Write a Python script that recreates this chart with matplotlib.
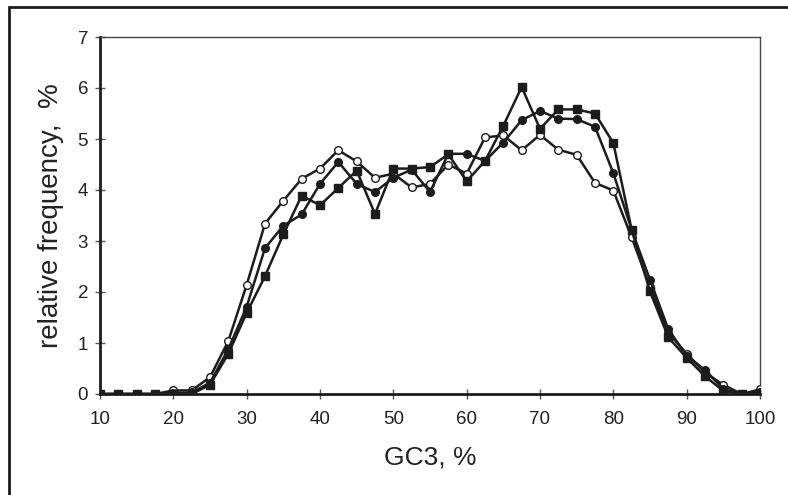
import matplotlib
matplotlib.use("Agg")
import matplotlib.pyplot as plt
from matplotlib.patches import Rectangle

gc3 = [10, 12.5, 15, 17.5, 20, 22.5, 25, 27.5, 30, 32.5, 35, 37.5, 40, 42.5, 45, 47.5,
       50, 52.5, 55, 57.5, 60, 62.5, 65, 67.5, 70, 72.5, 75, 77.5, 80, 82.5, 85, 87.5,
       90, 92.5, 95, 97.5, 100]

open_circles = [0, 0, 0, 0, 0.07, 0.07, 0.33, 1.04, 2.14, 3.34, 3.79, 4.22, 4.42, 4.78, 4.56, 4.24,
                4.32, 4.05, 4.12, 4.50, 4.32, 5.03, 5.07, 4.78, 5.08, 4.79, 4.69, 4.14, 3.99, 3.07, 2.10, 1.20,
                0.79, 0.42, 0.18, 0.0, 0.09]

filled_circles = [0, 0, 0, 0, 0.02, 0.03, 0.22, 0.88, 1.71, 2.86, 3.30, 3.52, 4.12, 4.55, 4.12, 3.96,
                  4.24, 4.40, 3.96, 4.71, 4.71, 4.57, 4.93, 5.37, 5.55, 5.40, 5.39, 5.24, 4.33, 3.22, 2.24, 1.27,
                  0.75, 0.47, 0.10, 0.0, 0.03]

squares = [0, 0, 0, 0, 0, 0, 0.18, 0.79, 1.59, 2.31, 3.13, 3.89, 3.70, 4.04, 4.38, 3.53,
           4.42, 4.42, 4.45, 4.70, 4.17, 4.57, 5.26, 6.02, 5.20, 5.58, 5.58, 5.50, 4.92, 3.22, 2.01, 1.11,
           0.71, 0.35, 0.06, 0.0, 0.0]

xticks = [10, 20, 30, 40, 50, 60, 70, 80, 90, 100]
yticks = [0, 1, 2, 3, 4, 5, 6, 7]

plt.rcParams['font.family'] = ['Liberation Sans', 'DejaVu Sans']
ink = '#1c1c1c'
txt = '#222222'

fig = plt.figure(figsize=(7.88, 4.95), dpi=100)
fig.patches.append(Rectangle((9 / 788, -0.1), 1.2, 1 - 7 / 495 + 0.1, transform=fig.transFigure,
                             fill=False, edgecolor=ink, linewidth=2.0, zorder=0))

ax = fig.add_axes([100 / 788, 1 - 394 / 495, 660 / 788, (394 - 37) / 495])

ax.plot(gc3, open_circles, color=ink, lw=1.8, marker='o', ms=5.5, mfc='white', mec=ink, mew=1.0, zorder=3)
ax.plot(gc3, filled_circles, color=ink, lw=1.8, marker='o', ms=5.5, mfc=ink, mec=ink, zorder=4)
ax.plot(gc3, squares, color=ink, lw=1.8, marker='s', ms=5.5, mfc=ink, mec=ink, zorder=5)

ax.set_xlim(10, 100)
ax.set_ylim(0, 7)
ax.set_xticks(xticks)
ax.set_yticks(yticks)
ax.tick_params(axis='both', direction='inout', length=7, width=1.0, color='#555555',
               labelsize=13.5, labelcolor=txt)
ax.tick_params(axis='x', pad=9)
ax.tick_params(axis='y', pad=5)

for s in ['left', 'bottom']:
    ax.spines[s].set_linewidth(2.0)
    ax.spines[s].set_color(ink)
for s in ['top', 'right']:
    ax.spines[s].set_linewidth(1.0)
    ax.spines[s].set_color('#444444')
for s in ax.spines.values():
    s.set_clip_on(False)

ax.set_xlabel('GC3, %', fontsize=19, color=txt, labelpad=12)
ax.set_ylabel('relative frequency,  %', fontsize=20, color=txt, labelpad=10)

fig.savefig('out.png', dpi=100)
